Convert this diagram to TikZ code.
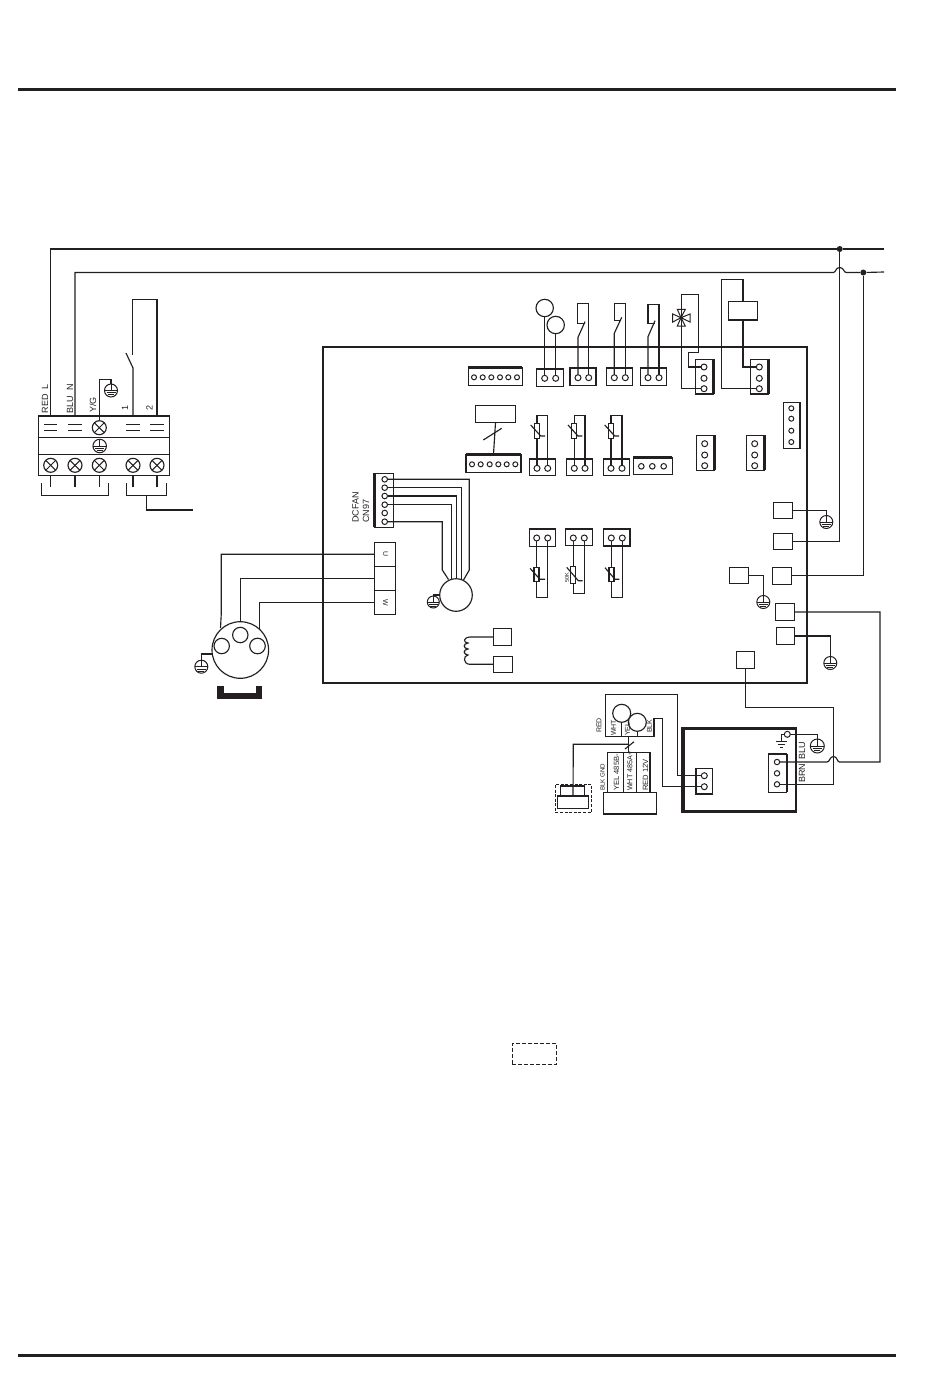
\documentclass[tikz,border=0pt]{standalone}
\usepackage{fontspec}
\setmainfont{Liberation Sans}
\definecolor{ink}{HTML}{231F20}
\tikzset{
  wire/.style={draw=ink,line width=1.15pt},
  rulerline/.style={draw=ink,line width=3pt},
  bar/.style={draw=ink,line width=2.6pt},
  boxed/.style={draw=ink,line width=1.15pt,inner sep=0pt,outer sep=0pt},
  pin/.style={circle,draw=ink,line width=1pt,minimum size=6pt,inner sep=0pt,outer sep=0pt},
  smallpin/.style={pin,minimum size=5pt},
  dotjoin/.style={circle,fill=ink,minimum size=6pt,inner sep=0pt},
  ring/.style={circle,draw=ink,line width=1.15pt,inner sep=0pt,outer sep=0pt},
  lab/.style={rotate=90,anchor=west,inner sep=0pt,text=ink,font=\fontsize{9}{9}\selectfont},
  minilab/.style={lab,font=\fontsize{7.6}{8}\selectfont},
  gnd/.style={circle,draw=ink,line width=1pt,minimum size=13pt,inner sep=0pt,outer sep=0pt,
    path picture={
      \draw[ink,line width=0.9pt] (path picture bounding box.west) -- (path picture bounding box.east);
      \draw[ink,line width=0.9pt] (path picture bounding box.north) -- (path picture bounding box.center);
      \draw[ink,line width=0.9pt] ([xshift=-4.5pt,yshift=-2.4pt]path picture bounding box.center) -- ([xshift=4.5pt,yshift=-2.4pt]path picture bounding box.center);
      \draw[ink,line width=0.9pt] ([xshift=-3pt,yshift=-4.4pt]path picture bounding box.center) -- ([xshift=3pt,yshift=-4.4pt]path picture bounding box.center);
    }},
  screw/.style={circle,draw=ink,line width=1.15pt,minimum size=14pt,inner sep=0pt,
    path picture={
      \draw[ink,line width=1pt] (path picture bounding box.south west) -- (path picture bounding box.north east);
      \draw[ink,line width=1pt] (path picture bounding box.north west) -- (path picture bounding box.south east);
    }},
}
\begin{document}
\begin{tikzpicture}[x=1pt,y=-1pt]
\useasboundingbox (0,0) rectangle (950,1387);
% page rules
\coordinate (ruletopL) at (18,89);
\coordinate (ruletopR) at (896,89);
\coordinate (rulebotL) at (18,1355);
\coordinate (rulebotR) at (896,1355);
\draw[rulerline] (ruletopL) -- (ruletopR);
\draw[rulerline] (rulebotL) -- (rulebotR);

% main board
\node[boxed,line width=2.4pt,minimum width=484pt,minimum height=336pt] (board) at (565,515) {};

% terminal block
\node[boxed,line width=1.4pt,minimum width=131pt,minimum height=59.4pt] (block) at (103.8,445.7) {};
\draw[ink,line width=1.2pt] (38.3,437.3) -- (169.3,437.3);
\draw[ink,line width=1.2pt] (38.3,454.3) -- (169.3,454.3);
\foreach \n/\x in {a/50.7,b/75,d/133,e/157}{
  \coordinate (top\n) at (\x,416);
  \draw[wire] (\x-6.7,424.7) -- (\x+6.7,424.7);
  \draw[wire] (\x-6.7,430.7) -- (\x+6.7,430.7);
}
\coordinate (topc) at (99.3,416);
\node[screw] (sc) at (99.3,427.7) {};
\node[gnd,minimum size=13.5pt] (gblock) at (99.7,446) {};
\foreach \n/\x in {a/50.7,b/75,c/99.3,d/133,e/157}{
  \node[screw] (low\n) at (\x,465.3) {};
  \draw[wire] (\x,475.3) -- (\x,487);
}
\draw[wire] (41.3,483.3) -- (41.3,495.3) -- (108.7,495.3) -- (108.7,483.3);
\draw[wire] (126.7,483.3) -- (126.7,495.3) -- (166.7,495.3) -- (166.7,483.3);
\draw[wire] (146.7,495.3) -- (146.7,510) -- (192.7,510);

% mains lines
\coordinate (lineL) at (884,249);
\coordinate (lineN) at (884,272);
\node[dotjoin] (dotL) at (839.7,249) {};
\node[dotjoin] (dotN) at (863.3,272.5) {};
\draw[wire] (topa) -- (50.7,249) -- (dotL) -- (lineL);
\draw[wire] (topb) -- (75,272.5) -- (833.3,272.5) .. controls (836,272.5) and (835.5,267.5) .. (839.7,267.5)
  .. controls (844,267.5) and (843.5,272.5) .. (846.3,272.5) -- (dotN) -- (lineN);
\node[lab] (lblL) at (45,413.5) {RED~~L};
\node[lab] (lblN) at (70,413.5) {BLU~~N};
\node[lab] (lblYG) at (93,413) {Y/G};
\node[lab] (lbl1) at (125,411) {1};
\node[lab] (lbl2) at (149.5,411) {2};

% block earth and switch
\node[gnd] (gyg) at (111,390.5) {};
\draw[wire] (sc.north) -- (99.3,379.3) -| (gyg.north);
\draw[wire] (topd) -- (133,368) -- (126,353);
\draw[wire] (132.3,355) -- (132.3,299.3) -- (157,299.3) -- (tope);

% fan connector
\node[boxed,minimum width=19pt,minimum height=54pt] (cn) at (383.8,500.3) {};
\draw[bar] (cn.north west) -- (cn.south west);
\foreach \i/\y in {1/479.3,2/487.7,3/496,4/504.7,5/513,6/521.7}
  \node[smallpin,minimum size=5.6pt] (cn\i) at (384.7,\y) {};
\node[lab] (lbldc) at (355.5,523) {DCFAN};
\node[lab] (lblcn) at (366,523) {CN97};
\node[ring,minimum size=32.6pt] (fanmotor) at (456,595) {};
\coordinate (fm1) at (469.3,570);
\coordinate (fm2) at (461.7,579.5);
\coordinate (fm3) at (456.7,579);
\coordinate (fm4) at (451.3,579.5);
\coordinate (fm6) at (442.3,570);
\draw[wire] (cn1.east) -| (fm1) -- (463.5,580);
\draw[wire] (cn2.east) -| (fm2);
\draw[wire] (cn3.east) -| (fm3);
\draw[wire] (cn4.east) -| (fm4);
\draw[wire] (cn6.east) -| (fm6) -- (448.5,579.5);
\node[gnd,minimum size=12pt] (gfan) at (433.3,602) {};
\draw[wire] (fanmotor.west) -| (gfan.north);

% uvw box
\node[boxed,minimum width=21pt,minimum height=24pt] (phu) at (384.8,554.3) {};
\node[boxed,minimum width=21pt,minimum height=24pt] (phv) at (384.8,578.3) {};
\node[boxed,minimum width=21pt,minimum height=24pt] (phw) at (384.8,602.3) {};
\node[rotate=-90,text=ink,inner sep=0pt,font=\fontsize{7}{7}\selectfont] (lblu) at (385.5,554.5) {U};
\node[rotate=-90,text=ink,inner sep=0pt,font=\fontsize{7}{7}\selectfont] (lblw) at (385.5,602.5) {W};

% compressor
\node[ring,minimum size=56.6pt] (comp) at (240.3,650) {};
\node[ring,minimum size=15.4pt] (compa) at (221.7,646) {};
\node[ring,minimum size=15.4pt] (compb) at (240.3,635) {};
\node[ring,minimum size=15.6pt] (compc) at (257.5,646) {};
\draw[wire] (phu.west) -- (221.3,554.3) -- (221.3,613) -- (220.5,628);
\draw[wire] (phv.west) -| (comp.north);
\draw[wire] (phw.west) -- (259.3,602.3) -- (259.3,629);
\node[gnd] (gcomp) at (201.3,666.7) {};
\draw[wire] (212.3,654) -| (gcomp.north);
\fill[ink] (217,686) rectangle (224,692.7);
\fill[ink] (256,686) rectangle (262.3,692.7);
\fill[ink] (217,692.7) rectangle (262.3,699);

% coil
\node[boxed,minimum width=18.4pt,minimum height=17.4pt] (coilA) at (502.5,637) {};
\node[boxed,minimum width=19pt,minimum height=16pt] (coilB) at (502.8,664.3) {};
\draw[wire] (coilA.west) -- (470,637) .. controls (463,637.5) and (463,642.5) .. (468,643)
  .. controls (463,643.5) and (463,648.5) .. (468,649)
  .. controls (463,649.5) and (463,654.5) .. (468,655)
  .. controls (463,655.5) and (463,664.3) .. (470,664.3) -- (coilB.west);

% upper row connectors
\node[boxed,minimum width=54pt,minimum height=17.6pt] (six) at (495.3,376.5) {};
\foreach \i/\x in {1/474,2/482.7,3/491.3,4/500,5/508.3,6/517}
  \node[smallpin] (six\i) at (\x,377.3) {};
\node[boxed,minimum width=26.6pt,minimum height=17.3pt] (conA) at (550,377.6) {};
\node[boxed,minimum width=26pt,minimum height=17.3pt] (conB) at (583,376.6) {};
\node[boxed,minimum width=25.6pt,minimum height=17.3pt] (conC) at (619.5,376.6) {};
\node[boxed,minimum width=26pt,minimum height=17.3pt] (conD) at (653.3,376.6) {};
\foreach \n/\x/\y in {A1/544.7/378.3,A2/555.7/378.3,B1/578/377.7,B2/588.7/377.7,C1/614.3/377.7,C2/625.3/377.7,D1/648/377.7,D2/659/377.7}
  \node[pin] (pin\n) at (\x,\y) {};
\foreach \n in {six,conA,conB,conC,conD}
  \draw[bar] (\n.north west) -- (\n.north east);

% fan sensors on top
\node[ring,minimum size=17.4pt] (senA) at (544.7,308) {};
\node[ring,minimum size=17.4pt] (senB) at (555.7,325) {};
\draw[wire] (senA.south) -- (pinA1.north);
\draw[wire] (senB.south) -- (pinA2.north);

% switches
\draw[wire] (pinB1.north) -- (578,337.3) -- (585,321.7);
\draw[wire] (585,323.3) -- (577.3,323.3) -- (577.3,303.3) -- (588.7,303.3) -- (pinB2.north);
\draw[wire] (pinC1.north) -- (614.3,333.3) -- (621.7,317.3);
\draw[wire] (621,320.7) -- (614.3,320.7) -- (614.3,303.3) -- (625.3,303.3) -- (pinC2.north);
\draw[wire] (pinD1.north) -- (648,336.7) -- (655,320.7);
\draw[wire] (655,323.3) -- (648,323.3) -- (648,304.3) -- (659,304.3) -- (pinD2.north);

% valve and relay connectors
\node[boxed,minimum width=18pt,minimum height=34.7pt] (conE) at (704.3,376.6) {};
\node[boxed,minimum width=18pt,minimum height=34.7pt] (conF) at (759.3,376.6) {};
\foreach \i/\y in {1/367,2/378.3,3/388.7}{
  \node[pin] (pinE\i) at (704,\y) {};
  \node[pin] (pinF\i) at (759.3,\y) {};
}
\draw[wire] (pinE3.west) -- (681.3,388.7) -- (681.3,294.7) -- (698.3,294.7) -- (698.3,352.7) -- (688.3,352.7) -- (688.3,367) -- (pinE1.west);
\draw[ink,line width=1pt] (681,317.7) -- (672.7,314) -- (672.7,322) -- cycle;
\draw[ink,line width=1pt] (681,317.7) -- (690,314) -- (690,322) -- cycle;
\draw[ink,line width=1pt] (681,317.7) -- (677.3,309.3) -- (685.3,309.3) -- cycle;
\draw[ink,line width=1pt] (681,317.7) -- (677.3,326) -- (685.3,326) -- cycle;
\node[boxed,minimum width=29.4pt,minimum height=18.7pt] (relay) at (743,310.7) {};
\draw[wire] (relay.north) -- (743,279.3) -- (721.3,279.3) |- (pinF3.west);
\draw[wire] (relay.south) |- (pinF1.west);

% right side connectors
\node[boxed,minimum width=16.7pt,minimum height=46pt] (conG) at (791.6,425.3) {};
\foreach \i/\y in {1/408.3,2/418.7,3/430.7,4/442}
  \node[smallpin] (pinG\i) at (791.3,\y) {};
\node[boxed,minimum width=18.4pt,minimum height=35pt] (conH) at (705.5,452.8) {};
\node[boxed,minimum width=18pt,minimum height=35pt] (conI) at (755.3,452.8) {};
\foreach \i/\y in {1/443.7,2/455,3/465.7}{
  \node[pin] (pinH\i) at (704.7,\y) {};
  \node[pin] (pinI\i) at (754.7,\y) {};
}
\foreach \n in {conE,conF,conG,conH,conI}
  \draw[bar] (\n.north east) -- (\n.south east);

% lower row, left
\node[boxed,minimum width=40.4pt,minimum height=17.4pt] (disp) at (495.5,414) {};
\node[boxed,minimum width=55pt,minimum height=18pt] (sixb) at (493.5,463.3) {};
\foreach \i/\x in {1/472,2/480.7,3/489.7,4/498.3,5/506.7,6/515.3}
  \node[smallpin] (sixb\i) at (\x,464.3) {};
\draw[wire] (disp.south) -- (sixb.north);
\draw[wire] (483.3,440) -- (501.7,428.3);
\node[boxed,minimum width=26pt,minimum height=16.4pt] (conM) at (542.3,467.2) {};
\node[boxed,minimum width=26.4pt,minimum height=16.4pt] (conN) at (579.5,467.2) {};
\node[boxed,minimum width=26.4pt,minimum height=16.4pt] (conO) at (616.5,467.2) {};
\node[boxed,minimum width=39pt,minimum height=17pt] (conP) at (652.8,466.2) {};
\foreach \n/\x in {M1/537,M2/547.7,N1/574.3,N2/585,O1/611,O2/622}
  \node[pin] (pin\n) at (\x,468.3) {};
\foreach \n/\x in {P1/641.3,P2/652.3,P3/663.7}
  \node[smallpin,minimum size=5.6pt] (pin\n) at (\x,466.3) {};
\foreach \n in {sixb,conM,conN,conO,conP}
  \draw[bar] (\n.north west) -- (\n.north east);
\foreach \n/\a/\b in {M/537/547.7,N/574.3/585,O/611/622}{
  \draw[wire] (pin\n1.north) -- (\a,415.3) -- (\b,415.3) -- (pin\n2.north);
  \node[boxed,fill=white,minimum width=5pt,minimum height=15pt] (res\n) at (\a,430.8) {};
  \draw[wire] (\a-6.3,425) -- (\a+3.7,436) -- (\a+8,436);
}

% lower sensors on board
\node[boxed,minimum width=26.4pt,minimum height=17.3pt] (conQ) at (542.5,537.6) {};
\node[boxed,minimum width=27pt,minimum height=16.3pt] (conR) at (578.8,537.1) {};
\node[boxed,minimum width=26.7pt,minimum height=17pt] (conS) at (616.7,537.5) {};
\foreach \n/\x in {Q1/536.7,Q2/547.7,R1/573.3,R2/584.3,S1/611.3,S2/622.3}
  \node[pin] (pin\n) at (\x,538) {};
\foreach \n in {conQ,conR,conS}
  \draw[bar] (\n.north west) -- (\n.north east);
\draw[wire] (pinQ1.south) -- (536.7,597.3) -- (547.7,597.3) -- (pinQ2.south);
\draw[wire] (pinR1.south) -- (573.3,593.3) -- (584.3,593.3) -- (pinR2.south);
\draw[wire] (pinS1.south) -- (611.3,597.3) -- (622.3,597.3) -- (pinS2.south);
\node[boxed,fill=white,minimum width=5pt,minimum height=14.4pt] (resQ) at (536.5,574.5) {};
\node[boxed,fill=white,minimum width=5.4pt,minimum height=16.6pt] (resR) at (573,575) {};
\node[boxed,fill=white,minimum width=5pt,minimum height=14.4pt] (resS) at (611.5,574.5) {};
\draw[wire] (530,568.3) -- (540,579.3) -- (545,579.3);
\draw[wire] (566.7,567.3) -- (578.3,580.7) -- (582.7,580.7);
\draw[wire] (605,567.7) -- (615,579.3) -- (619.3,579.3);
\node[rotate=90,text=ink,inner sep=0pt,font=\fontsize{5.5}{6}\selectfont] (lbl50) at (567,578) {50K};

% earth and line tabs on the right
\node[boxed,minimum width=19.4pt,minimum height=16pt] (tabA) at (783,510.3) {};
\node[boxed,minimum width=19.4pt,minimum height=16pt] (tabB) at (783,541.3) {};
\node[boxed,minimum width=19.4pt,minimum height=17pt] (tabC) at (782,575.8) {};
\node[boxed,minimum width=19.4pt,minimum height=16.4pt] (tabD) at (739,575.5) {};
\node[boxed,minimum width=19.4pt,minimum height=17.4pt] (tabE) at (785,612) {};
\node[boxed,minimum width=18.4pt,minimum height=17.4pt] (tabF) at (785.5,636) {};
\node[boxed,minimum width=18.4pt,minimum height=17.4pt] (tabG) at (745.5,660) {};
\node[gnd] (gtabA) at (826.3,522) {};
\node[gnd] (gtabD) at (763.3,602) {};
\node[gnd] (gtabF) at (830.3,663) {};
\draw[wire] (tabA.east) -| (gtabA.north);
\draw[wire] (tabD.east) -| (gtabD.north);
\draw[wire] (tabF.east) -| (gtabF.north);
\draw[wire] (dotL) |- (tabB.east);
\draw[wire] (dotN) |- (tabC.east);

% external unit box
\node[boxed,line width=2.6pt,minimum width=113.3pt,minimum height=83.4pt] (unit) at (739.3,770) {};
\draw[ink,line width=4pt] (unit.north west) -- (unit.south west);
\node[boxed,minimum width=18.4pt,minimum height=38.3pt] (conU) at (777.5,773.2) {};
\foreach \i/\y in {1/762,2/773.3,3/784.3}
  \node[pin,minimum size=5.4pt] (pinU\i) at (777,\y) {};
\draw[bar,line width=1.6pt] (conU.north east) -- (conU.south east);
\node[boxed,minimum width=16.6pt,minimum height=25.3pt] (conT) at (704,781.3) {};
\node[pin] (pinT1) at (704.3,775.7) {};
\node[pin] (pinT2) at (704.3,786.7) {};
\draw[bar,line width=1.6pt] (conT.north west) -- (conT.south west);
\node[pin] (pinPE) at (787.3,734.3) {};
\node[gnd,minimum size=14pt] (gunit) at (817.3,746) {};
\draw[wire] (pinPE.east) -| (gunit.north);
\draw[wire] (pinPE.west) -- (781.3,734.3) -- (781.3,741.7);
\draw[wire] (776,741.7) -- (786.7,741.7);
\draw[wire] (777.5,744.8) -- (785.2,744.8);
\draw[wire] (779.5,747.8) -- (783.2,747.8);
\node[lab] (lblblu) at (802,760) {BLU};
\node[lab] (lblbrn) at (802,783) {BRN};
\draw[wire] (tabE.east) -- (880,612) -- (880,762) -- (839.5,762)
  .. controls (837,762) and (837.5,756.5) .. (833.5,756.5)
  .. controls (829.5,756.5) and (830,762) .. (827,762) -- (pinU1.east);
\draw[wire] (tabG.south) -- (745.5,707.3) -- (833.7,707.3) -- (833.7,784.3) -- (pinU3.east);

% interface at the bottom
\draw[wire] (662.7,718.3) -- (654,718.3) -- (654,736.7) -- (605.3,736.7) -- (605.3,694.3) -- (677.3,694.3) -- (677.3,775.7) -- (pinT1.west);
\draw[wire] (662.7,718.3) -- (662.7,786.7) -- (pinT2.west);
\node[ring,minimum size=18pt,fill=white] (senC) at (621.7,713.3) {};
\node[ring,minimum size=18pt,fill=white] (senD) at (637.3,722.3) {};
\draw[wire] (senC.south) -- (621.7,736.7);
\draw[wire] (senD.south) -- (637.3,736.7);
\node[minilab,font=\fontsize{7}{7}\selectfont] (lblred) at (599,733) {RED};
\node[minilab,font=\fontsize{7}{7}\selectfont] (lblwht) at (613.5,736) {WHT};
\node[minilab,font=\fontsize{7}{7}\selectfont] (lblyel) at (627.5,736) {YEL};
\node[minilab,font=\fontsize{7}{7}\selectfont] (lblblk) at (649.5,733) {BLK};
\node[boxed,minimum width=53.4pt,minimum height=21.7pt] (rsbox) at (630,803.2) {};
\draw[wire] (607.5,792.3) -- (607.5,752.3) -- (650,752.3) -- (650,792.3);
\draw[wire] (623.3,752.3) -- (623.3,792.3);
\draw[wire] (636.7,752.3) -- (636.7,792.3);
\draw[wire] (628.5,736.7) -- (628.5,752.3);
\draw[wire] (625,749) -- (634,741.7);
\node[minilab,font=\fontsize{6.2}{7}\selectfont] (lblgnd) at (602.5,791) {BLK GND};
\node[minilab] (lblb) at (616.5,791) {YEL 485B-};
\node[minilab,font=\fontsize{7.2}{8}\selectfont] (lbla) at (630,791) {WHT 485A+};
\node[minilab] (lbl12) at (645.5,791) {RED 12V};
\node[boxed,minimum width=31.4pt,minimum height=12.3pt] (plugb) at (573,802.2) {};
\node[boxed,minimum width=24pt,minimum height=10pt] (pluga) at (572.7,791) {};
\draw[wire] (628.5,744.3) -- (573.3,744.3) -- (plugb.north);
\node[boxed,line width=1pt,dash pattern=on 3pt off 1.6pt,minimum width=36.4pt,minimum height=27.7pt] (plugzone) at (573.5,798.2) {};

% dashed legend box
\node[boxed,line width=1pt,dash pattern=on 4pt off 2pt,minimum width=44.4pt,minimum height=21pt] (legend) at (534.5,1053.8) {};
\end{tikzpicture}
\end{document}
